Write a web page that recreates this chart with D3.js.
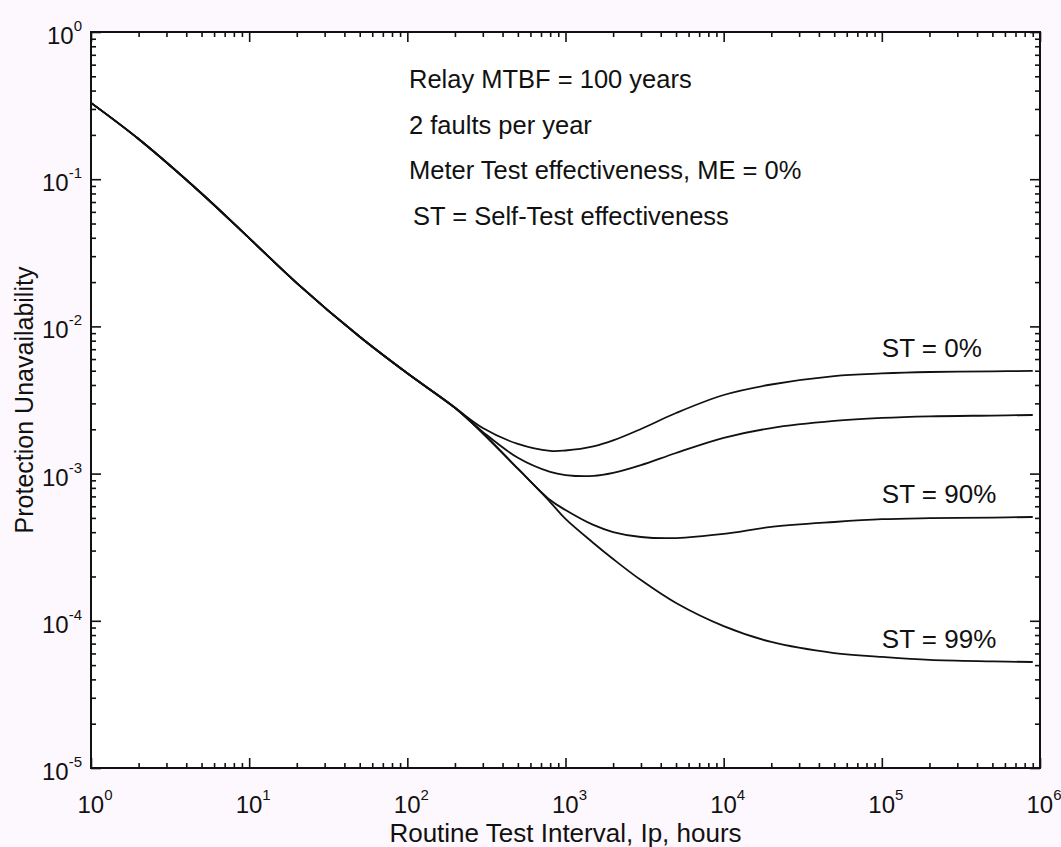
<!DOCTYPE html>
<html>
<head>
<meta charset="utf-8">
<script src="https://cdn.jsdelivr.net/npm/d3@7"></script>
<style>
  body { margin: 0; background: #fdf8fd; }
  svg { display: block; }
  text { font-family: "Liberation Sans", Arial, sans-serif; fill: #111; }
</style>
</head>
<body>
<script>
'use strict';

// shared part of every curve (all ST values lie on one line here)
const xCommon = [1, 2, 5, 10, 20, 50, 100, 200];
const yCommon = [0.33, 0.1875, 0.080, 0.0398, 0.0197, 0.0085, 0.0048, 0.0028];

// where the curves split apart
const xBranch = [300, 500, 800, 1000, 1500, 2000, 3000, 5000, 10000, 20000, 50000, 1e5, 2e5, 5e5, 9e5];
const yST0  = [0.00204, 0.00159, 0.001425, 0.001435, 0.00153, 0.00168, 0.00201, 0.00258, 0.00342, 0.00403, 0.0046, 0.00479, 0.0049, 0.00495, 0.00498];
const yST50 = [0.00192, 0.00128, 0.001026, 0.000978, 0.000964, 0.00101, 0.00114, 0.00138, 0.00175, 0.00204, 0.00228, 0.00239, 0.00245, 0.00248, 0.0025];
const yST90 = [0.00188, 0.00108, 0.000662, 0.000566, 0.000448, 0.000401, 0.000371, 0.000365, 0.000389, 0.000434, 0.000469, 0.00049, 0.000498, 0.000503, 0.000507];
const yST99 = [0.00188, 0.00108, 0.000641, 0.000492, 0.000338, 0.000263, 0.000189, 0.000132, 0.000092, 0.0000718, 0.0000604, 0.0000568, 0.0000542, 0.000053, 0.0000525];

const seriesNames = ["ST = 0%", "ST = 50%", "ST = 90%", "ST = 99%"];
const labelled = ["ST = 0%", "ST = 90%", "ST = 99%"];

const xExponents = [0, 1, 2, 3, 4, 5, 6];
const yExponents = [0, -1, -2, -3, -4, -5];

const notes = [
  "Relay MTBF = 100 years",
  "2 faults per year",
  "Meter Test effectiveness, ME = 0%",
  "ST = Self-Test effectiveness"
];

(function() {
  let width = 1061, height = 847;
  let plot = {left: 91, right: 1040, top: 32, bottom: 768};

  let svg = d3.select('body').append('svg')
    .attr('width', width)
    .attr('height', height);

  // white plot area
  svg.append('rect')
    .attr('x', plot.left).attr('y', plot.top)
    .attr('width', plot.right - plot.left)
    .attr('height', plot.bottom - plot.top)
    .attr('fill', '#fff');

  let xScale = d3.scaleLog().domain([1, 1e6]).range([plot.left, plot.right]);
  let yScale = d3.scaleLog().domain([1e-5, 1]).range([plot.bottom, plot.top]);

  let xMajor = xExponents.map((e) => Math.pow(10, e));
  let yMajor = yExponents.map((e) => Math.pow(10, e));
  let xMinor = [], yMinor = [];
  for (let e = 0; e < 6; e++) for (let k = 2; k < 10; k++) xMinor.push(k * Math.pow(10, e));
  for (let e = -5; e < 0; e++) for (let k = 2; k < 10; k++) yMinor.push(k * Math.pow(10, e));

  // ticks pointing inwards on all four sides
  function addAxis(axis, tx, ty) {
    let g = svg.append('g')
      .attr('transform', 'translate(' + tx + ',' + ty + ')')
      .call(axis);
    g.select('.domain').remove();
    g.selectAll('line').attr('stroke', '#111').attr('stroke-width', 1.6);
  }
  addAxis(d3.axisBottom(xScale).tickValues(xMajor).tickSize(-10).tickFormat(''), 0, plot.bottom);
  addAxis(d3.axisBottom(xScale).tickValues(xMinor).tickSize(-5).tickFormat(''), 0, plot.bottom);
  addAxis(d3.axisTop(xScale).tickValues(xMajor).tickSize(-10).tickFormat(''), 0, plot.top);
  addAxis(d3.axisTop(xScale).tickValues(xMinor).tickSize(-5).tickFormat(''), 0, plot.top);
  addAxis(d3.axisLeft(yScale).tickValues(yMajor).tickSize(-10).tickFormat(''), plot.left, 0);
  addAxis(d3.axisLeft(yScale).tickValues(yMinor).tickSize(-5).tickFormat(''), plot.left, 0);
  addAxis(d3.axisRight(yScale).tickValues(yMajor).tickSize(-10).tickFormat(''), plot.right, 0);
  addAxis(d3.axisRight(yScale).tickValues(yMinor).tickSize(-5).tickFormat(''), plot.right, 0);

  // frame
  svg.append('rect')
    .attr('x', plot.left).attr('y', plot.top)
    .attr('width', plot.right - plot.left)
    .attr('height', plot.bottom - plot.top)
    .attr('fill', 'none')
    .attr('stroke', '#111')
    .attr('stroke-width', 2);

  // tick labels as 10 with superscript exponent
  let xLab = svg.selectAll('.xlab').data(xExponents).enter()
    .append('text')
    .attr('class', 'xlab')
    .attr('x', (d) => xScale(Math.pow(10, d)) + 4)
    .attr('y', plot.bottom + 45)
    .attr('text-anchor', 'middle')
    .style('font-size', '24px');
  xLab.append('tspan').text('10');
  xLab.append('tspan').attr('dy', -13).style('font-size', '15px').text((d) => d);

  let yLab = svg.selectAll('.ylab').data(yExponents).enter()
    .append('text')
    .attr('class', 'ylab')
    .attr('x', plot.left - 9)
    .attr('y', (d) => yScale(Math.pow(10, d)) + 12)
    .attr('text-anchor', 'end')
    .style('font-size', '24px');
  yLab.append('tspan').text('10');
  yLab.append('tspan').attr('dy', -13).style('font-size', '15px').text((d) => d);

  // axis titles
  svg.append('text')
    .attr('x', (plot.left + plot.right) / 2)
    .attr('y', 842)
    .attr('text-anchor', 'middle')
    .style('font-size', '26px')
    .text('Routine Test Interval, Ip, hours');

  svg.append('text')
    .attr('transform', 'translate(33,' + ((plot.top + plot.bottom) / 2) + ')rotate(-90)')
    .attr('text-anchor', 'middle')
    .style('font-size', '25px')
    .text('Protection Unavailability');

  // notes in the upper part of the plot
  svg.selectAll('.note').data(notes).enter()
    .append('text')
    .attr('class', 'note')
    .attr('x', (d, i) => i == 3 ? 413 : 409)
    .attr('y', (d, i) => 88 + i * 45.7)
    .style('font-size', '25.5px')
    .text((d) => d);

  // curves
  let ySeries = [yST0, yST50, yST90, yST99];
  let xAll = xCommon.concat(xBranch);
  let curves = ySeries.map((ys, i) => ({
    name: seriesNames[i],
    points: xAll.map((x, j) => ({x: x, y: yCommon.concat(ys)[j]}))
  }));

  let line = d3.line()
    .x((d) => xScale(d.x))
    .y((d) => yScale(d.y))
    .curve(d3.curveCatmullRom.alpha(0.5));

  svg.selectAll('.curve').data(curves).enter()
    .append('path')
    .attr('class', 'curve')
    .attr('fill', 'none')
    .attr('stroke', '#111')
    .attr('stroke-width', 1.8)
    .attr('d', (d) => line(d.points));

  // curve labels above the plateau
  svg.selectAll('.clab').data(curves.filter((c) => labelled.indexOf(c.name) >= 0)).enter()
    .append('text')
    .attr('class', 'clab')
    .attr('x', xScale(1e5))
    .attr('y', (d) => yScale(d.points[d.points.length - 1].y) - 14)
    .style('font-size', '26px')
    .text((d) => d.name);
})();
</script>
</body>
</html>
